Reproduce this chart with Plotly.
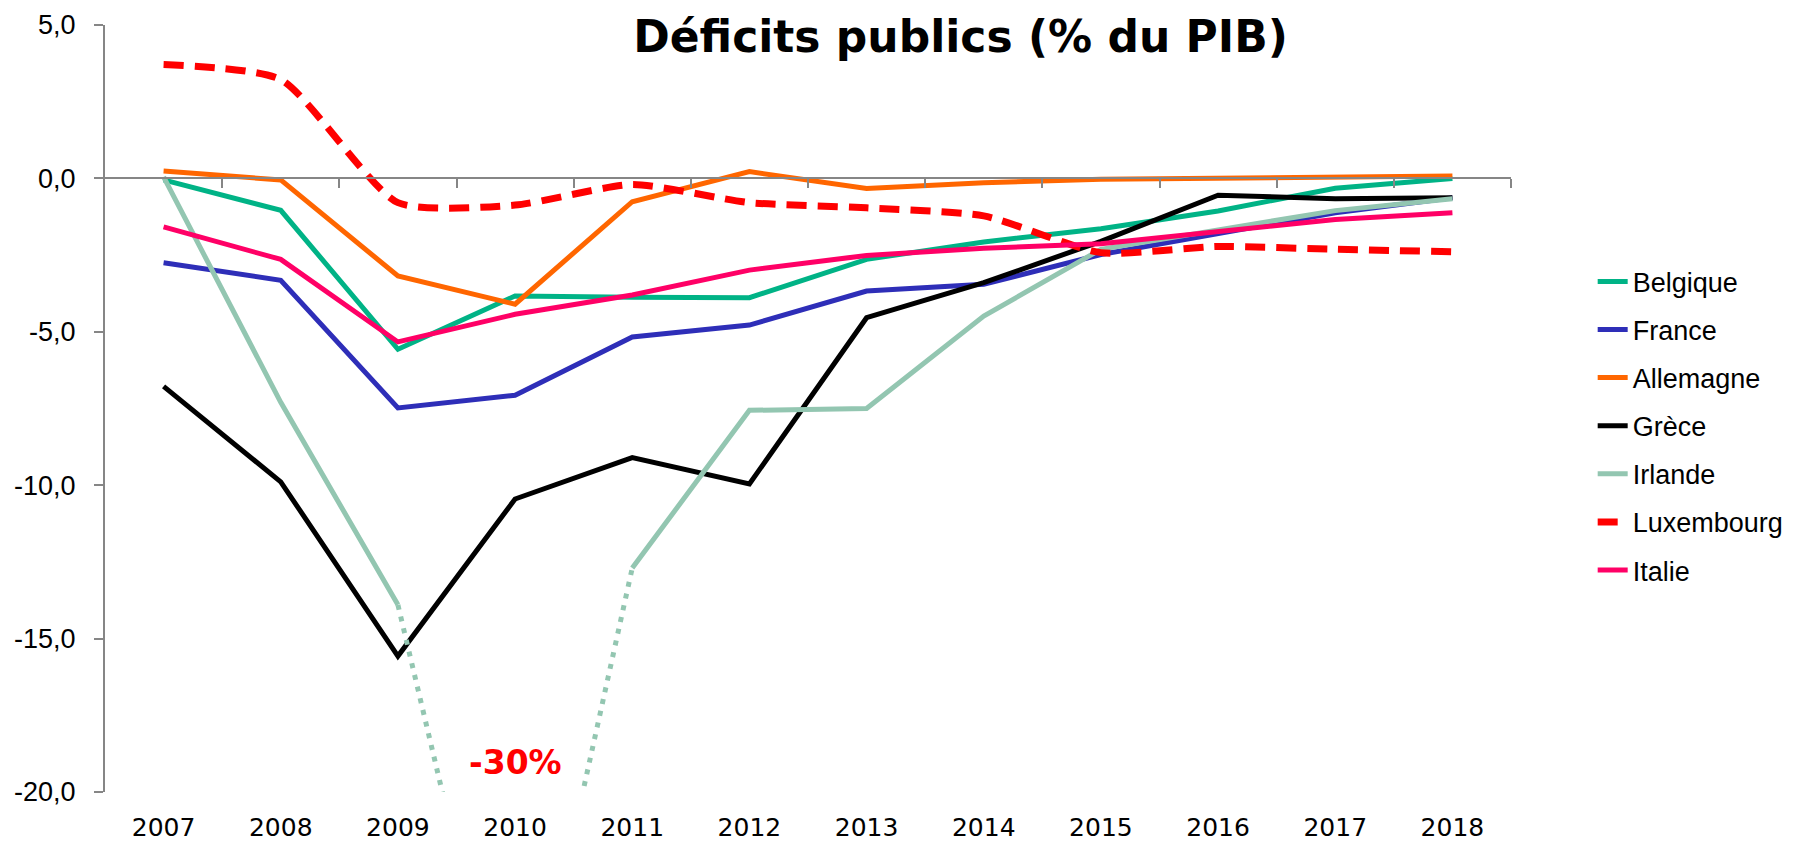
import plotly.graph_objects as go

years = [2007, 2008, 2009, 2010, 2011, 2012, 2013, 2014, 2015, 2016, 2017, 2018]
year_labels = [str(y) for y in years]

belgique   = [-0.05, -1.04, -5.57, -3.83, -3.87, -3.89, -2.64, -2.07, -1.64, -1.06, -0.32, 0.0]
france     = [-2.75, -3.32, -7.48, -7.07, -5.17, -4.78, -3.67, -3.45, -2.48, -1.82, -1.12, -0.63]
allemagne  = [0.24, -0.05, -3.18, -4.1, -0.76, 0.22, -0.33, -0.14, -0.03, 0.0, 0.04, 0.08]
grece      = [-6.78, -9.89, -15.57, -10.45, -9.1, -9.96, -4.54, -3.4, -2.05, -0.55, -0.66, -0.63]
irlande    = [0.05, -7.3, -13.9, -30.0, -12.7, -7.56, -7.5, -4.49, -2.31, -1.66, -1.05, -0.66]
luxembourg = [3.71, 3.22, -0.79, -0.87, -0.2, -0.79, -0.96, -1.22, -2.42, -2.22, -2.31, -2.39]
italie     = [-1.58, -2.64, -5.33, -4.43, -3.8, -2.99, -2.51, -2.28, -2.13, -1.72, -1.34, -1.12]

y_ticks = [-20, -15, -10, -5, 0, 5]
y_ticktext = ["-20,0", "-15,0", "-10,0", "-5,0", "0,0", "5,0"]

title_text = "Déficits publics (% du PIB)"
note_text = "-30%"

colors = {
    "Belgique": "#00B386",
    "France": "#2E2EB8",
    "Allemagne": "#FF6600",
    "Grèce": "#000000",
    "Irlande": "#93C6B1",
    "Luxembourg": "#FF0000",
    "Italie": "#FF0066",
}

fig = go.Figure()

def add_line(name, vals, **line_kw):
    fig.add_trace(go.Scatter(
        x=years, y=vals, name=name, mode="lines", legendgroup=name,
        line=dict(color=colors[name], **line_kw), hoverinfo="x+y+name"))

add_line("Belgique", belgique, width=5)
add_line("France", france, width=5)
add_line("Allemagne", allemagne, width=5)
add_line("Grèce", grece, width=5)

# Irlande: solid outside the off-scale year, dotted towards it
gap_idx = years.index(2010)
irl_solid = [None if i == gap_idx else v for i, v in enumerate(irlande)]
add_line("Irlande", irl_solid, width=5)
fig.add_trace(go.Scatter(
    x=years[gap_idx - 1:gap_idx + 2], y=irlande[gap_idx - 1:gap_idx + 2],
    mode="lines", showlegend=False, legendgroup="Irlande",
    line=dict(color=colors["Irlande"], width=5, dash="5px,7px"), hoverinfo="skip"))

add_line("Luxembourg", luxembourg, width=7, dash="20px,11px", shape="spline", smoothing=0.6)
add_line("Italie", italie, width=5)

# empty trace to host the zero-crossing category axis
fig.add_trace(go.Scatter(x=[], y=[], xaxis="x2", showlegend=False, hoverinfo="skip"))

fig.add_annotation(x=2010, y=-19.05, xref="x", yref="y", text=note_text, showarrow=False,
                   font=dict(family="DejaVu Sans", size=33, color="#FF0000", weight="bold"))

axis_grey = "#868686"
fig.update_layout(
    width=1797, height=841,
    margin=dict(l=105, r=286, t=25, b=49, autoexpand=False),
    plot_bgcolor="white", paper_bgcolor="white",
    title=dict(text=title_text, x=0.5345, xanchor="center", y=0.957, yanchor="middle",
               xref="container", yref="container",
               font=dict(family="DejaVu Sans", size=44, color="black", weight="bold")),
    xaxis=dict(range=[2006.5, 2018.5], tickvals=years, ticktext=year_labels,
               showline=False, showgrid=False, zeroline=False, automargin=False,
               ticks="outside", ticklen=13, tickcolor="rgba(0,0,0,0)",
               tickfont=dict(family="DejaVu Sans", size=25, color="black")),
    xaxis2=dict(range=[2006.5, 2018.5], overlaying="x", anchor="free", position=0.8,
                showline=True, linecolor=axis_grey, linewidth=2, showgrid=False, zeroline=False,
                automargin=False,
                ticks="outside", ticklen=9, tickwidth=2, tickcolor=axis_grey,
                tickvals=[y + 0.5 for y in years], showticklabels=False),
    yaxis=dict(range=[-20, 5], tickvals=y_ticks, ticktext=y_ticktext,
               showline=True, linecolor=axis_grey, linewidth=2, showgrid=False, zeroline=False,
               automargin=False,
               ticks="outside", ticklen=9, tickwidth=2, tickcolor=axis_grey,
               ticklabelstandoff=13,
               tickfont=dict(family="Liberation Sans", size=27, color="black")),
    legend=dict(x=0.8863, xref="container", xanchor="left", y=0.694, yref="container", yanchor="top",
                font=dict(family="Liberation Sans", size=27, color="black"),
                tracegroupgap=10, bgcolor="rgba(0,0,0,0)"),
    showlegend=True,
)

fig.write_html("out.html", config={"displayModeBar": False},
               post_script="document.body.style.margin='0';document.body.style.overflow='hidden';")
